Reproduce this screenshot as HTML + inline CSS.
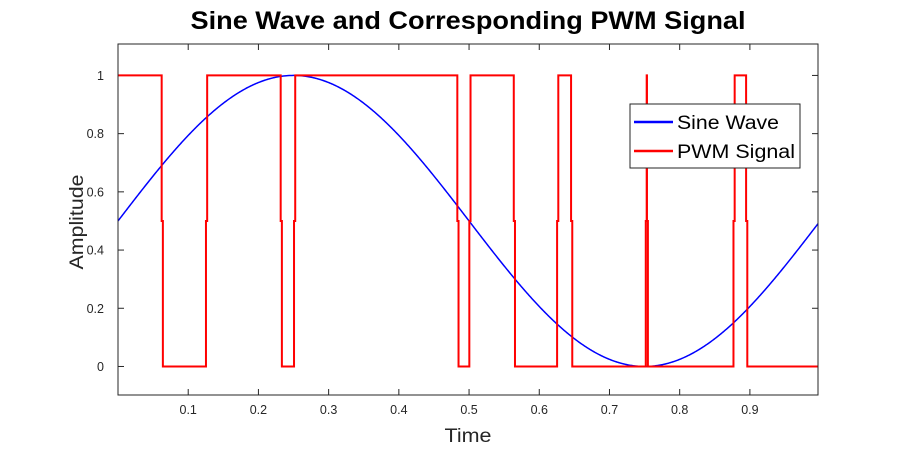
<!DOCTYPE html>
<html><head><meta charset="utf-8"><style>
body{margin:0;background:#fff;}
svg text{font-family:"Liberation Sans",sans-serif;}
</style></head><body>
<svg id="chart" width="904" height="450" xmlns="http://www.w3.org/2000/svg">
<rect width="904" height="450" fill="#fff"/>
<text x="468" y="29" text-anchor="middle" font-size="25" font-weight="bold" fill="#000" textLength="555" lengthAdjust="spacingAndGlyphs">Sine Wave and Corresponding PWM Signal</text>
<text x="468" y="442" text-anchor="middle" font-size="19" fill="#262626" textLength="47" lengthAdjust="spacingAndGlyphs">Time</text>
<text transform="translate(83,222) rotate(-90)" text-anchor="middle" font-size="19" fill="#262626" textLength="95" lengthAdjust="spacingAndGlyphs">Amplitude</text>
<g id="ticks"></g>
<g id="series"></g>
<rect x="118" y="44" width="700" height="351" fill="none" stroke="#262626" stroke-width="1"/>
<g>
<rect x="630" y="104" width="170" height="64" fill="#fff" stroke="#262626" stroke-width="1"/>
<line x1="634" y1="122" x2="673" y2="122" stroke="#0000ff" stroke-width="2.5"/>
<text x="677" y="129" font-size="19" fill="#000" textLength="102" lengthAdjust="spacingAndGlyphs">Sine Wave</text>
<line x1="634" y1="151" x2="673" y2="151" stroke="#ff0000" stroke-width="2.5"/>
<text x="677" y="158" font-size="19" fill="#000" textLength="118" lengthAdjust="spacingAndGlyphs">PWM Signal</text>
</g>
</svg>
<script>
const xTicks=[0.1,0.2,0.3,0.4,0.5,0.6,0.7,0.8,0.9];
const yTicks=[0,0.2,0.4,0.6,0.8,1];
const yTickLabels=["0","0.2","0.4","0.6","0.8","1"];
const pwmTimes=[0.0622,0.1253,0.2317,0.2507,0.4833,0.5004,0.5637,0.6254,0.6453,0.7517,0.7530,0.8766,0.8946];
const pwmLevels=[1,0,1,0,1,0,1,0,1,0,1,0,1,0];
const sineFreq=[1];
const sineOffset=[0.5];
const sineAmp=[0.5];
const X0=118,X1=818,XMIN=0,XMAX=0.997;
const Y0=395,Y1=44,YMIN=-0.098,YMAX=1.108;
function sx(v){return X0+(v-XMIN)/(XMAX-XMIN)*(X1-X0);}
function sy(v){return Y0-(v-YMIN)/(YMAX-YMIN)*(Y0-Y1);}
const NS="http://www.w3.org/2000/svg";
const tg=document.getElementById('ticks'),sg=document.getElementById('series');
function mk(tag,attrs,parent){const e=document.createElementNS(NS,tag);for(const k in attrs)e.setAttribute(k,attrs[k]);parent.appendChild(e);return e;}
xTicks.forEach(t=>{
  const x=sx(t);
  const a=mk('line',{x1:x,y1:Y0,x2:x,y2:Y0-6,stroke:'#262626'},tg);
  
  
  mk('line',{x1:x,y1:Y1,x2:x,y2:Y1+6,stroke:'#262626'},tg);
  const l=mk('text',{x:x,y:Y0+19,'text-anchor':'middle','font-size':'12.5',fill:'#262626'},tg);
  l.textContent=String(t);
  
  
});
yTicks.forEach((t,i)=>{
  const y=sy(t);
  const a=mk('line',{x1:X0,y1:y,x2:X0+6,y2:y,stroke:'#262626'},tg);
  
  
  mk('line',{x1:X1,y1:y,x2:X1-6,y2:y,stroke:'#262626'},tg);
  const l=mk('text',{x:X0-14,y:y+4.5,'text-anchor':'end','font-size':'12.5',fill:'#262626'},tg);
  l.textContent=yTickLabels[i];
  
  
});
let d='';
for(let i=0;i<=1000;i++){const t=XMIN+(XMAX-XMIN)*i/1000;const v=sineOffset[0]+sineAmp[0]*Math.sin(2*Math.PI*sineFreq[0]*t);d+=(i?'L':'M')+sx(t).toFixed(2)+','+sy(v).toFixed(2);}
const sp=mk('path',{d:d,fill:'none',stroke:'#0000ff','stroke-width':'1.5'},sg);


let p='M'+sx(XMIN)+','+sy(pwmLevels[0]);
pwmTimes.forEach((t,i)=>{
  const a=pwmLevels[i],b=pwmLevels[i+1];
  p+='L'+sx(t).toFixed(2)+','+sy(a).toFixed(2);
  p+='L'+sx(t).toFixed(2)+','+sy(0.5).toFixed(2);
  p+='L'+(sx(t)+1.2).toFixed(2)+','+sy(0.5).toFixed(2);
  p+='L'+(sx(t)+1.2).toFixed(2)+','+sy(b).toFixed(2);
});
p+='L'+sx(XMAX)+','+sy(pwmLevels[pwmLevels.length-1]);
const pp=mk('path',{d:p,fill:'none',stroke:'#ff0000','stroke-width':'2'},sg);


</script>
</body></html>
